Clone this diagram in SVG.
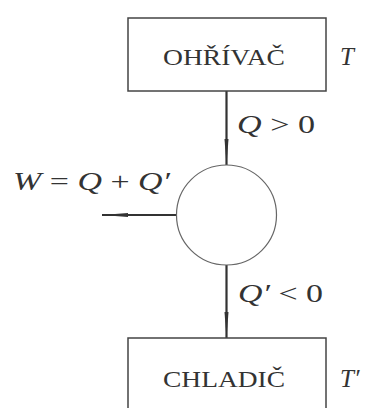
<svg xmlns="http://www.w3.org/2000/svg" width="369" height="408" viewBox="0 0 369 408">
<style>
.box{fill:#fff;stroke:#444;stroke-width:1.5}
.lbl{font-family:"Liberation Serif","DejaVu Serif",serif;font-size:24px;fill:#333;text-anchor:middle}
.m{font-family:"Liberation Serif","DejaVu Serif",serif;font-style:italic;font-size:25px;fill:#333}
.mr{font-style:normal}
.ln{stroke:#333;stroke-width:2.2;fill:none}
</style>
<defs>
<marker id="av" markerWidth="26" markerHeight="8" refX="26" refY="4" orient="auto" markerUnits="userSpaceOnUse">
<path d="M0,2 L26,4 L0,6 Z" fill="#333"/>
</marker>
</defs>
<rect width="369" height="408" fill="#fff"/>
<g id="connectors">
<line class="ln" x1="226.5" y1="91" x2="226.5" y2="165" marker-end="url(#av)"/>
<line class="ln" x1="226.5" y1="265" x2="226.5" y2="338" marker-end="url(#av)"/>
<line class="ln" x1="176.5" y1="215" x2="102" y2="215" marker-end="url(#av)"/>
</g>
<g id="heater">
<rect class="box" x="128" y="18" width="198" height="73"/>
<text class="lbl" x="224" y="65" textLength="122" lengthAdjust="spacingAndGlyphs">OHŘÍVAČ</text>
<text class="m" x="340" y="65">T</text>
</g>
<g id="engine">
<circle cx="226.5" cy="215" r="50" fill="#fff" stroke="#666" stroke-width="1.2"/>
</g>
<g id="cooler">
<rect class="box" x="128" y="338" width="198" height="80"/>
<text class="lbl" x="224" y="387" textLength="122" lengthAdjust="spacingAndGlyphs">CHLADIČ</text>
<text class="m" x="340" y="387">T′</text>
</g>
<g id="labels">
<text class="m" x="237" y="133" textLength="78" lengthAdjust="spacingAndGlyphs">Q <tspan class="mr">&gt; 0</tspan></text>
<text class="m" x="238" y="302" textLength="85" lengthAdjust="spacingAndGlyphs">Q′ <tspan class="mr">&lt; 0</tspan></text>
<text class="m" x="13" y="190" textLength="157" lengthAdjust="spacingAndGlyphs">W <tspan class="mr">=</tspan> Q <tspan class="mr">+</tspan> Q′</text>
</g>
</svg>
